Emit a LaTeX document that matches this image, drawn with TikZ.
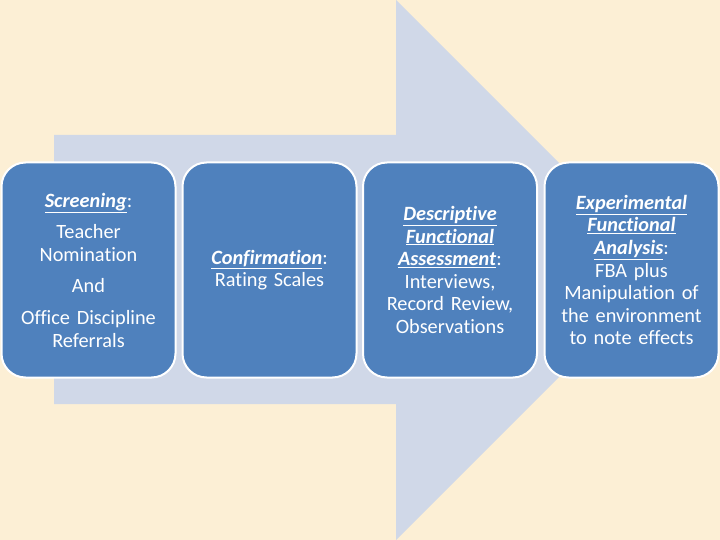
\documentclass[tikz,border=0pt]{standalone}
\usepackage{fontspec}
\setmainfont{Carlito}[Ligatures=NoCommon]
\definecolor{parchment}{HTML}{FCEFD5}
\definecolor{shaftblue}{HTML}{D0D8E8}
\definecolor{boxblue}{HTML}{4F81BD}
\def\term#1{\underline{\textbf{\textit{#1}}}}

\begin{document}
\begin{tikzpicture}[x=1pt,y=-1pt,
  stage/.style={draw=white,line width=2pt,fill=boxblue,rounded corners=24pt,
    minimum width=174pt,minimum height=215pt,text width=170pt,inner sep=1pt,
    text=white,align=center,font=\fontsize{20.3pt}{22.6pt}\selectfont}]
\fill[parchment] (0,0) rectangle (720,540);
\useasboundingbox (0,0) rectangle (720,540);
% big arrow behind the boxes
\fill[shaftblue] (54,135) -- (396,135) -- (396,0) -- (666,270)
  -- (396,540) -- (396,404) -- (54,404) -- cycle;
\coordinate (C0) at (88.5,270);
\coordinate (C1) at (269.5,270);
\coordinate (C2) at (450,270);
\coordinate (C3) at (631.5,270);
\node[stage] (screen) at (C0) {\term{Screening}:\\[9pt]
  Teacher\\Nomination\\[9pt]And\\[9pt]Office Discipline\\Referrals};
\node[stage] (confirm) at (C1) {\term{Confirmation}:\\Rating Scales};
\node[stage] (describe) at (C2) {\term{Descriptive}\\\term{Functional}\\
  \term{Assessment}:\\Interviews,\\Record Review,\\Observations};
\node[stage] (experiment) at (C3) {\term{Experimental}\\\term{Functional}\\
  \term{Analysis}:\\FBA plus\\Manipulation of\\the environment\\to note effects};
\end{tikzpicture}
\end{document}
